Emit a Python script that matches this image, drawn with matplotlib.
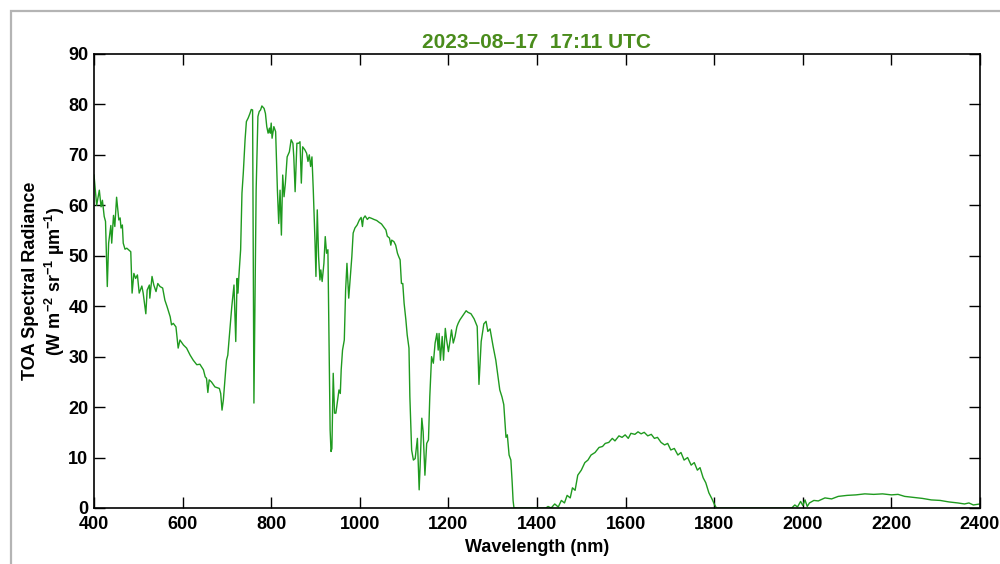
import matplotlib.pyplot as plt
from matplotlib.patches import Rectangle

# TOA spectrum
wavelength = [400, 406, 412, 416, 419, 423, 426, 430, 433, 438, 440, 444, 447, 451, 456, 459,
              461, 464, 466, 470, 474, 483, 486, 490, 494, 498, 502, 508, 511, 517, 520, 525,
              526, 531, 535, 540, 544, 549, 555, 560, 565, 572, 575, 579, 585, 590, 594, 602,
              609, 617, 624, 632, 639, 647, 651, 654, 657, 660, 665, 673, 683, 686, 689, 692,
              696, 699, 702, 707, 711, 716, 720, 723, 725, 727, 731, 734,
              737, 741, 744, 748, 752, 755, 758, 761, 766, 770, 773, 776, 779, 784, 787, 790,
              793, 796, 798, 800, 802, 806, 810, 814, 817, 820, 823, 826, 829, 832, 836, 841,
              845, 849, 851, 854, 858, 862, 865, 868, 871, 876, 880, 883, 886, 889, 892, 895,
              899, 901, 904, 907, 910, 912, 915, 919, 922, 925, 928, 930, 933, 935, 937, 940,
              943, 946, 950, 953, 956, 958, 961, 965, 968, 971, 975, 978, 982, 985, 989, 994,
              999, 1003, 1006, 1008, 1012, 1017, 1021, 1027, 1032, 1038, 1044, 1049, 1055, 1059,
              1062, 1067, 1070, 1072, 1077, 1081, 1085, 1088, 1091, 1094, 1097, 1100, 1104, 1107,
              1111, 1113, 1117, 1121, 1125, 1130, 1134, 1136, 1140, 1143, 1147, 1151, 1155, 1158,
              1162, 1166, 1170, 1174, 1177, 1179, 1182, 1186, 1189, 1193, 1196, 1200, 1204, 1207,
              1211, 1215, 1219, 1222, 1226, 1233, 1240, 1244, 1251, 1258, 1265, 1269, 1274, 1280,
              1285, 1289, 1294, 1301, 1307, 1312, 1316, 1321, 1325, 1330, 1333, 1337, 1341, 1344,
              1346, 1348, 1380, 1420, 1425, 1432, 1440, 1448, 1455, 1462, 1468, 1475, 1480, 1486,
              1492, 1500, 1508, 1515, 1522, 1531, 1540, 1548, 1554, 1562, 1570, 1576, 1585, 1592,
              1599, 1606, 1612, 1621, 1628, 1635, 1642, 1650, 1658, 1665, 1672, 1680, 1688, 1695,
              1702, 1710, 1718, 1725, 1732, 1740, 1748, 1755, 1762, 1768, 1775, 1781, 1788, 1795,
              1800, 1805, 1900, 1975, 1982, 1988, 1995, 2000, 2005, 2010, 2015, 2025, 2035, 2050,
              2065, 2080, 2100, 2120, 2140, 2160, 2180, 2200, 2215, 2230, 2250, 2270, 2290, 2310,
              2330, 2350, 2365, 2375, 2385, 2400]
radiance = [66, 60, 63, 59.7, 61, 57.8, 56.8, 43.9, 52.5, 56, 52.5, 58, 55.8, 61.6, 57.1, 57.5,
            55.5, 56.1, 52.5, 51.3, 51.5, 50.8, 42.6, 46.5, 45.5, 46.2, 42.6, 44, 42.6, 38.5, 43.2, 44.2,
            41.6, 45.9, 44.2, 42.9, 44.5, 43.9, 43.6, 41.2, 39.9, 37.9, 36.3, 36.6, 35.9, 31.7, 33.3, 32.3,
            31.7, 30.3, 29.3, 28.4, 28.5, 27.4, 26, 25.7, 22.9, 25.4, 25, 24, 23.7, 22.7, 19.4, 21.4,
            26, 29.3, 30.3, 35.6, 39.9, 44.2, 33, 45.5, 42.6, 45.9, 51.2, 62.4,
            66.4, 73, 76.6, 77.3, 78.2, 79, 78.9, 20.8, 63, 77.6, 78.6, 78.9, 79.7, 79.2, 78.2, 75.6,
            74.3, 75.3, 74.3, 76.3, 73.3, 75.6, 74.6, 63, 56.4, 63, 54.1, 66, 61.7, 64.4, 69.6, 70.6,
            73, 72.3, 69.6, 62.7, 72.3, 72.3, 72.6, 64.4, 71.6, 71, 70.3, 68.7, 70, 67.7, 69.6, 63,
            52.5, 45.9, 59.1, 49.8, 45.2, 47.2, 44.9, 48.5, 53.8, 50.5, 51.2, 36.6, 15.5, 11.2, 11.8, 26.7,
            18.8, 18.8, 21.4, 23.4, 22.7, 27.4, 31.3, 33.3, 43.2, 48.5, 41.6, 45.2, 49.8, 54.5, 55.5, 56.1,
            57.1, 57.6, 55.8, 57.4, 57.9, 57.2, 57.6, 57.4, 57.2, 57, 56.6, 56.3, 55.6, 55.1,
            53.9, 53.5, 52.1, 53.1, 52.8, 52.1, 50.5, 49.8, 49.2, 44.5, 44.5, 40.6, 37.3, 34.3,
            31.7, 22.1, 11.5, 9.5, 9.8, 13.8, 3.6, 8, 17.8, 15.1, 6.5, 12.8, 13.5, 22.1,
            30, 28.7, 32.7, 34.6, 31.3, 34.6, 29.3, 34, 29.3, 35.6, 33.3, 31, 33.3, 35.3,
            32.7, 34, 35.9, 36.6, 37.3, 38.2, 39.1, 38.8, 38.5, 37.5, 36, 24.5, 33, 36.5,
            37, 35, 35.5, 32, 29.3, 26, 23.4, 22, 20.5, 14, 14.5, 10.5, 9.5, 5,
            1.5, 0, 0, 0, 0.3, 0, 0.8, 0.2, 1.5, 1, 2.5, 2, 4, 3.5,
            6.5, 7.5, 9, 9.5, 10.5, 11, 12, 12.2, 12.8, 13, 13.8, 13.3, 14.3, 14,
            14.5, 13.8, 14.8, 14.6, 15.1, 14.7, 15, 14.3, 14.6, 13.8, 14, 13, 12.5, 12.8,
            11.5, 11.8, 10.5, 11, 9.5, 10, 8.5, 9, 7.5, 8, 6, 5, 3, 1.8,
            0.8, 0, 0, 0, 0.6, 0.2, 1.3, 0.5, 1.6, 0.3, 1.0, 1.5, 1.4, 2.0,
            1.8, 2.3, 2.5, 2.6, 2.8, 2.7, 2.8, 2.6, 2.7, 2.3, 2.1, 1.9, 1.6, 1.5,
            1.2, 1.0, 0.8, 1.0, 0.6, 0.8]

xticks = [400, 600, 800, 1000, 1200, 1400, 1600, 1800, 2000, 2200, 2400]
yticks = [0, 10, 20, 30, 40, 50, 60, 70, 80, 90]
title = "2023\u201308\u201317  17:11 UTC"

plt.rcParams['font.family'] = ['Liberation Sans', 'DejaVu Sans']
plt.rcParams['font.weight'] = 'bold'
plt.rcParams['mathtext.fontset'] = 'custom'
plt.rcParams['mathtext.rm'] = 'Liberation Sans:bold'
plt.rcParams['mathtext.bf'] = 'Liberation Sans:bold'
plt.rcParams['mathtext.default'] = 'bf'

fig = plt.figure(figsize=(10, 5.64), dpi=100)
ax = fig.add_axes([0.094, 0.0993, 0.886, 0.805])

ax.plot(wavelength, radiance, color='#1f9a1f', linewidth=1.0)

ax.set_xlim(400, 2400)
ax.set_ylim(0, 90)
ax.set_xticks(xticks)
ax.set_yticks(yticks)
ax.tick_params(direction='in', length=8, width=1, top=True, right=True,
               labelsize=13, pad=4)
ax.tick_params(axis='x', pad=6)
for lab in ax.get_xticklabels() + ax.get_yticklabels():
    lab.set_fontweight('bold')
for sp in ax.spines.values():
    sp.set_linewidth(1.2)

ax.set_title(title, color='#4a8c1c', fontsize=15, fontweight='bold', pad=4)
ax.set_xlabel("Wavelength (nm)", fontsize=13, fontweight='bold', labelpad=4)
ax.set_ylabel("TOA Spectral Radiance\n(W m$^{-2}$ sr$^{-1}$ \u00b5m$^{-1}$)",
              fontsize=13, fontweight='bold', labelpad=1, linespacing=1.2)

# grey frame clipped by the image edges
fig.patches.append(Rectangle((0.011, -0.5), 2, 1.4805, transform=fig.transFigure,
                             fill=False, edgecolor='#b4b4b4', linewidth=1.6))

fig.savefig("out.png", dpi=100)
